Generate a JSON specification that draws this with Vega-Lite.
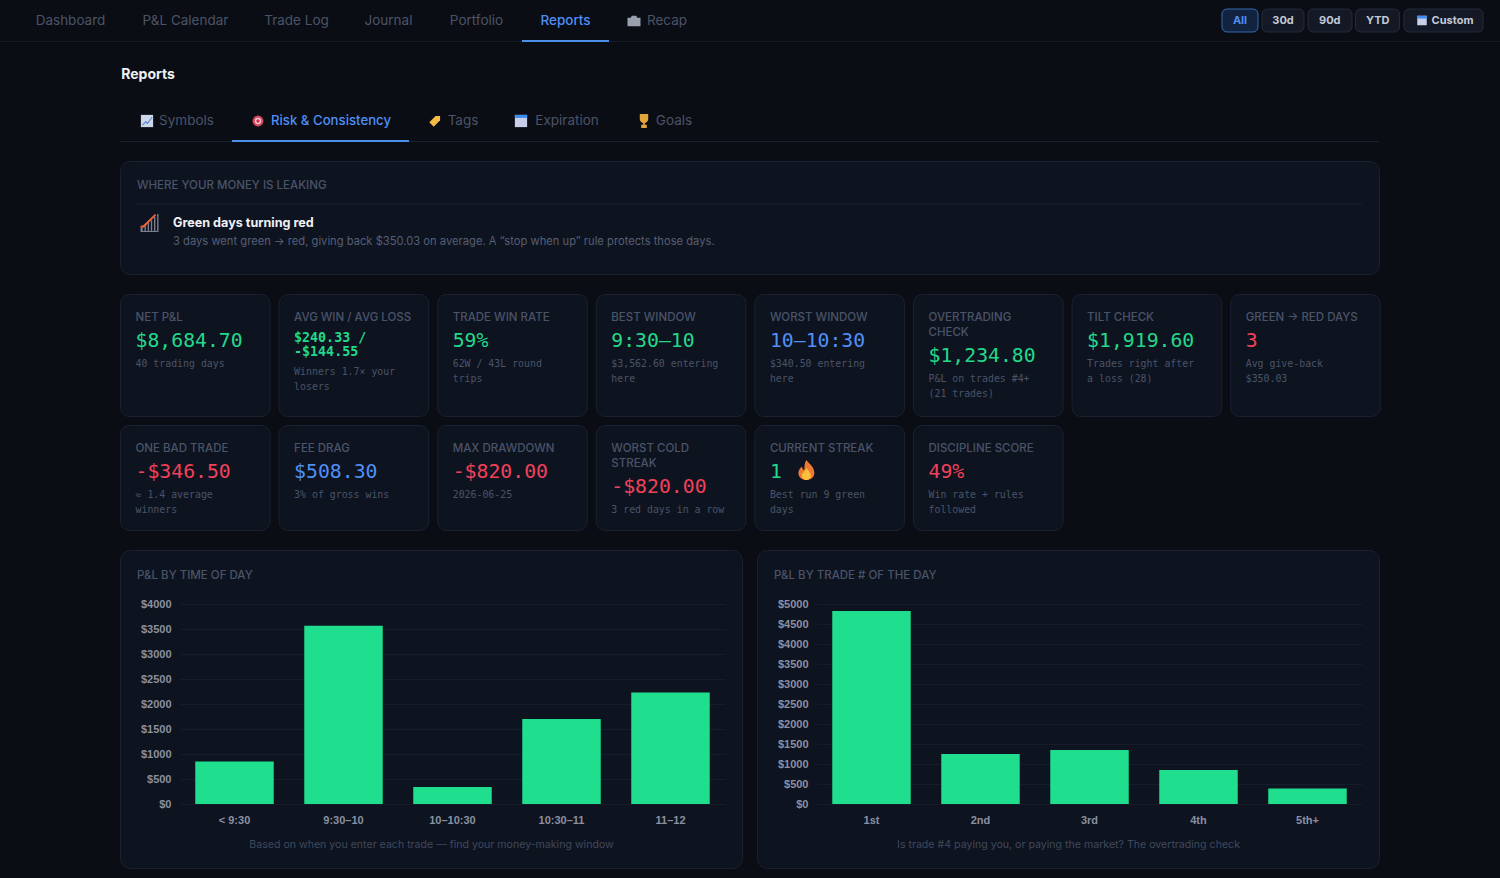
{"$schema":"https://vega.github.io/schema/vega-lite/v6.json","description":"Reports - risk and consistency","background":"#0a0d14","padding":0,"spacing":18,"config":{"view":{"stroke":null},"text":{"font":"Inter"},"title":{"font":"Inter"}},
"datasets":{"cardsTop":[
{"card":"1 net","role":"label","slot":0,"text":"NET P&L"},{"card":"1 net","role":"value","slot":3,"tone":"green","text":"$8,684.70"},{"card":"1 net","role":"sub","slot":6,"text":"40 trading days"},
{"card":"2 avg","role":"label","slot":0,"text":"AVG WIN / AVG LOSS"},{"card":"2 avg","role":"pair","slot":3,"tone":"green","text":"$240.33 /\n-$144.55"},{"card":"2 avg","role":"sub","slot":7,"text":"Winners 1.7× your\nlosers"},
{"card":"3 rate","role":"label","slot":0,"text":"TRADE WIN RATE"},{"card":"3 rate","role":"value","slot":3,"tone":"green","text":"59%"},{"card":"3 rate","role":"sub","slot":6,"text":"62W / 43L round\ntrips"},
{"card":"4 best","role":"label","slot":0,"text":"BEST WINDOW"},{"card":"4 best","role":"value","slot":3,"tone":"green","text":"9:30–10"},{"card":"4 best","role":"sub","slot":6,"text":"$3,562.60 entering\nhere"},
{"card":"5 worst","role":"label","slot":0,"text":"WORST WINDOW"},{"card":"5 worst","role":"value","slot":3,"tone":"blue","text":"10–10:30"},{"card":"5 worst","role":"sub","slot":6,"text":"$340.50 entering\nhere"},
{"card":"6 over","role":"label","slot":0,"text":"OVERTRADING\nCHECK"},{"card":"6 over","role":"value","slot":5,"tone":"green","text":"$1,234.80"},{"card":"6 over","role":"sub","slot":8,"text":"P&L on trades #4+\n(21 trades)"},
{"card":"7 tilt","role":"label","slot":0,"text":"TILT CHECK"},{"card":"7 tilt","role":"value","slot":3,"tone":"green","text":"$1,919.60"},{"card":"7 tilt","role":"sub","slot":6,"text":"Trades right after\na loss (28)"},
{"card":"8 flip","role":"label","slot":0,"text":"GREEN → RED DAYS"},{"card":"8 flip","role":"value","slot":3,"tone":"red","text":"3"},{"card":"8 flip","role":"sub","slot":6,"text":"Avg give-back\n$350.03"}],
"cardsBottom":[
{"card":"1 bad","role":"label","slot":0,"text":"ONE BAD TRADE"},{"card":"1 bad","role":"value","slot":3,"tone":"red","text":"-$346.50"},{"card":"1 bad","role":"sub","slot":6,"text":"≈ 1.4 average\nwinners"},
{"card":"2 fee","role":"label","slot":0,"text":"FEE DRAG"},{"card":"2 fee","role":"value","slot":3,"tone":"blue","text":"$508.30"},{"card":"2 fee","role":"sub","slot":6,"text":"3% of gross wins"},
{"card":"3 dd","role":"label","slot":0,"text":"MAX DRAWDOWN"},{"card":"3 dd","role":"value","slot":3,"tone":"red","text":"-$820.00"},{"card":"3 dd","role":"sub","slot":6,"text":"2026-06-25"},
{"card":"4 cold","role":"label","slot":0,"text":"WORST COLD\nSTREAK"},{"card":"4 cold","role":"value","slot":5,"tone":"red","text":"-$820.00"},{"card":"4 cold","role":"sub","slot":8,"text":"3 red days in a row"},
{"card":"5 streak","role":"label","slot":0,"text":"CURRENT STREAK"},{"card":"5 streak","role":"value","slot":3,"tone":"green","text":"1"},{"card":"5 streak","role":"flame","slot":3},{"card":"5 streak","role":"sub","slot":6,"text":"Best run 9 green\ndays"},
{"card":"6 disc","role":"label","slot":0,"text":"DISCIPLINE SCORE"},{"card":"6 disc","role":"value","slot":3,"tone":"red","text":"49%"},{"card":"6 disc","role":"sub","slot":6,"text":"Win rate + rules\nfollowed"}]},
"vconcat":[
{"spacing":0,"vconcat":[
{"bounds":"flush","spacing":0,"hconcat":[
{"width":17,"height":42,"data":{"values":[{}]},"mark":{"type":"rect","color":"#161b26"},"encoding":{"y":{"datum":"edge","type":"nominal","scale":{"type":"band","domain":["edge"],"range":[41,42],"padding":0},"axis":null}}},
{"width":107,"height":42,"data":{"values":[{"tab":"Dashboard"}]},"layer":[{"mark":{"type":"rect","color":"#161b26"},"encoding":{"y":{"datum":"edge","type":"nominal","scale":{"type":"band","domain":["edge"],"range":[41,42],"padding":0},"axis":null}}},{"mark":{"type":"text","fontSize":13.5,"color":"#4a5468"},"encoding":{"text":{"field":"tab"}}}]},
{"width":123,"height":42,"data":{"values":[{"tab":"P&L Calendar"}]},"layer":[{"mark":{"type":"rect","color":"#161b26"},"encoding":{"y":{"datum":"edge","type":"nominal","scale":{"type":"band","domain":["edge"],"range":[41,42],"padding":0},"axis":null}}},{"mark":{"type":"text","fontSize":13.5,"color":"#4a5468"},"encoding":{"text":{"field":"tab"}}}]},
{"width":99,"height":42,"data":{"values":[{"tab":"Trade Log"}]},"layer":[{"mark":{"type":"rect","color":"#161b26"},"encoding":{"y":{"datum":"edge","type":"nominal","scale":{"type":"band","domain":["edge"],"range":[41,42],"padding":0},"axis":null}}},{"mark":{"type":"text","fontSize":13.5,"color":"#4a5468"},"encoding":{"text":{"field":"tab"}}}]},
{"width":85,"height":42,"data":{"values":[{"tab":"Journal"}]},"layer":[{"mark":{"type":"rect","color":"#161b26"},"encoding":{"y":{"datum":"edge","type":"nominal","scale":{"type":"band","domain":["edge"],"range":[41,42],"padding":0},"axis":null}}},{"mark":{"type":"text","fontSize":13.5,"color":"#4a5468"},"encoding":{"text":{"field":"tab"}}}]},
{"width":91,"height":42,"data":{"values":[{"tab":"Portfolio"}]},"layer":[{"mark":{"type":"rect","color":"#161b26"},"encoding":{"y":{"datum":"edge","type":"nominal","scale":{"type":"band","domain":["edge"],"range":[41,42],"padding":0},"axis":null}}},{"mark":{"type":"text","fontSize":13.5,"color":"#4a5468"},"encoding":{"text":{"field":"tab"}}}]},
{"width":87,"height":42,"data":{"values":[{"tab":"Reports"}]},"layer":[{"mark":{"type":"rect","color":"#4a8fe8"},"encoding":{"y":{"datum":"edge","type":"nominal","scale":{"type":"band","domain":["edge"],"range":[40,42],"padding":0},"axis":null}}},{"mark":{"type":"text","fontSize":13.5,"fontWeight":500,"color":"#4f8ff7"},"encoding":{"text":{"field":"tab"}}}]},
{"width":98,"height":42,"data":{"values":[{"tab":"Recap"}]},"layer":[{"mark":{"type":"rect","color":"#161b26"},"encoding":{"y":{"datum":"edge","type":"nominal","scale":{"type":"band","domain":["edge"],"range":[41,42],"padding":0},"axis":null}}},{"mark":{"type":"point","shape":"M-1,-0.5 L-0.5,-0.5 L-0.35,-0.8 L0.35,-0.8 L0.5,-0.5 L1,-0.5 L1,0.8 L-1,0.8Z","filled":true,"size":169,"opacity":1,"color":"#9a9fae","xOffset":-24,"yOffset":0},"encoding":{}},{"mark":{"type":"text","fontSize":13.5,"color":"#4a5468","dx":9},"encoding":{"text":{"field":"tab"}}}]},
{"width":513,"height":42,"data":{"values":[{}]},"mark":{"type":"rect","color":"#161b26"},"encoding":{"y":{"datum":"edge","type":"nominal","scale":{"type":"band","domain":["edge"],"range":[41,42],"padding":0},"axis":null}}},
{"width":40,"height":42,"data":{"values":[{"tab":"All"}]},"resolve":{"scale":{"y":"independent"}},"layer":[{"mark":{"type":"rect","color":"#161b26"},"encoding":{"y":{"datum":"edge","type":"nominal","scale":{"type":"band","domain":["edge"],"range":[41,42],"padding":0},"axis":null}}},{"mark":{"type":"rect","fill":"#12233f","stroke":"#356ab0","cornerRadius":5},"encoding":{"x":{"field":"tab","type":"nominal","scale":{"type":"band","range":[2,38],"padding":0},"axis":null},"y":{"datum":"btn","type":"nominal","scale":{"type":"band","domain":["btn"],"range":[9,32],"padding":0},"axis":null}}},{"mark":{"type":"text","fontSize":11,"fontWeight":700,"color":"#4f8ff7"},"encoding":{"text":{"field":"tab"},"y":{"datum":"btn","type":"nominal","scale":{"type":"band","domain":["btn"],"range":[9,32],"padding":0},"axis":null}}}]},
{"width":46,"height":42,"data":{"values":[{"tab":"30d"}]},"resolve":{"scale":{"y":"independent"}},"layer":[{"mark":{"type":"rect","color":"#161b26"},"encoding":{"y":{"datum":"edge","type":"nominal","scale":{"type":"band","domain":["edge"],"range":[41,42],"padding":0},"axis":null}}},{"mark":{"type":"rect","fill":"#141925","stroke":"#252b3a","cornerRadius":5},"encoding":{"x":{"field":"tab","type":"nominal","scale":{"type":"band","range":[2,44],"padding":0},"axis":null},"y":{"datum":"btn","type":"nominal","scale":{"type":"band","domain":["btn"],"range":[9,32],"padding":0},"axis":null}}},{"mark":{"type":"text","fontSize":11,"fontWeight":700,"color":"#c3c9d6"},"encoding":{"text":{"field":"tab"},"y":{"datum":"btn","type":"nominal","scale":{"type":"band","domain":["btn"],"range":[9,32],"padding":0},"axis":null}}}]},
{"width":47.5,"height":42,"data":{"values":[{"tab":"90d"}]},"resolve":{"scale":{"y":"independent"}},"layer":[{"mark":{"type":"rect","color":"#161b26"},"encoding":{"y":{"datum":"edge","type":"nominal","scale":{"type":"band","domain":["edge"],"range":[41,42],"padding":0},"axis":null}}},{"mark":{"type":"rect","fill":"#141925","stroke":"#252b3a","cornerRadius":5},"encoding":{"x":{"field":"tab","type":"nominal","scale":{"type":"band","range":[2,46],"padding":0},"axis":null},"y":{"datum":"btn","type":"nominal","scale":{"type":"band","domain":["btn"],"range":[9,32],"padding":0},"axis":null}}},{"mark":{"type":"text","fontSize":11,"fontWeight":700,"color":"#c3c9d6"},"encoding":{"text":{"field":"tab"},"y":{"datum":"btn","type":"nominal","scale":{"type":"band","domain":["btn"],"range":[9,32],"padding":0},"axis":null}}}]},
{"width":47.5,"height":42,"data":{"values":[{"tab":"YTD"}]},"resolve":{"scale":{"y":"independent"}},"layer":[{"mark":{"type":"rect","color":"#161b26"},"encoding":{"y":{"datum":"edge","type":"nominal","scale":{"type":"band","domain":["edge"],"range":[41,42],"padding":0},"axis":null}}},{"mark":{"type":"rect","fill":"#141925","stroke":"#252b3a","cornerRadius":5},"encoding":{"x":{"field":"tab","type":"nominal","scale":{"type":"band","range":[1.5,45.5],"padding":0},"axis":null},"y":{"datum":"btn","type":"nominal","scale":{"type":"band","domain":["btn"],"range":[9,32],"padding":0},"axis":null}}},{"mark":{"type":"text","fontSize":11,"fontWeight":700,"color":"#c3c9d6"},"encoding":{"text":{"field":"tab"},"y":{"datum":"btn","type":"nominal","scale":{"type":"band","domain":["btn"],"range":[9,32],"padding":0},"axis":null}}}]},
{"width":99,"height":42,"data":{"values":[{"tab":"Custom"}]},"resolve":{"scale":{"y":"independent"}},"layer":[{"mark":{"type":"rect","color":"#161b26"},"encoding":{"y":{"datum":"edge","type":"nominal","scale":{"type":"band","domain":["edge"],"range":[41,42],"padding":0},"axis":null}}},{"mark":{"type":"rect","fill":"#141925","stroke":"#252b3a","cornerRadius":5},"encoding":{"x":{"field":"tab","type":"nominal","scale":{"type":"band","range":[2,81],"padding":0},"axis":null},"y":{"datum":"btn","type":"nominal","scale":{"type":"band","domain":["btn"],"range":[9,32],"padding":0},"axis":null}}},{"mark":{"type":"point","shape":"square","filled":true,"size":90,"opacity":1,"color":"#c9cfe8","xOffset":-29.5},"encoding":{"y":{"datum":"btn","type":"nominal","scale":{"type":"band","domain":["btn"],"range":[9,32],"padding":0},"axis":null}}},{"mark":{"type":"point","shape":"M-1,-1 L1,-1 L1,-0.4 L-1,-0.4Z","filled":true,"size":90,"opacity":1,"color":"#3f8cf0","xOffset":-29.5},"encoding":{"y":{"datum":"btn","type":"nominal","scale":{"type":"band","domain":["btn"],"range":[9,32],"padding":0},"axis":null}}},{"mark":{"type":"text","fontSize":11,"fontWeight":700,"color":"#c3c9d6","dx":1},"encoding":{"text":{"field":"tab"},"y":{"datum":"btn","type":"nominal","scale":{"type":"band","domain":["btn"],"range":[9,32],"padding":0},"axis":null}}}]}
]},
{"bounds":"flush","spacing":0,"hconcat":[
{"width":119.5,"height":58,"data":{"values":[{}]},"mark":{"type":"rect","opacity":0},"encoding":{}},
{"width":56,"height":58,"data":{"values":[{"text":"Reports"}]},"mark":{"type":"text","fontSize":14,"fontWeight":700,"color":"#eef1f6","dy":4},"encoding":{"text":{"field":"text"}}}
]},
{"bounds":"flush","spacing":0,"hconcat":[
{"width":119.5,"height":42,"data":{"values":[{}]},"mark":{"type":"rect","opacity":0},"encoding":{}},
{"width":112,"height":42,"data":{"values":[{"tab":"Symbols"}]},"layer":[{"mark":{"type":"rect","color":"#1a202c"},"encoding":{"y":{"datum":"edge","type":"nominal","scale":{"type":"band","domain":["edge"],"range":[41,42],"padding":0},"axis":null}}},{"mark":{"type":"point","shape":"square","filled":true,"size":150,"opacity":1,"color":"#cdd7ea","xOffset":-29},"encoding":{}},{"mark":{"type":"point","shape":"M-0.8,0.6 L-0.2,0 L0.1,0.25 L0.8,-0.7 L0.9,-0.6 L0.1,0.55 L-0.2,0.25 L-0.7,0.75Z","filled":true,"size":150,"opacity":1,"color":"#4a7fd6","xOffset":-29},"encoding":{}},{"mark":{"type":"text","fontSize":13.5,"color":"#4a5468","dx":10.5},"encoding":{"text":{"field":"tab"}}}]},
{"width":177,"height":42,"data":{"values":[{"tab":"Risk & Consistency"}]},"layer":[{"mark":{"type":"rect","color":"#4a8fe8"},"encoding":{"y":{"datum":"edge","type":"nominal","scale":{"type":"band","domain":["edge"],"range":[40,42],"padding":0},"axis":null}}},{"mark":{"type":"point","shape":"circle","filled":true,"size":120,"opacity":1,"color":"#d9475f","xOffset":-62.5},"encoding":{}},{"mark":{"type":"point","shape":"circle","filled":true,"size":40,"opacity":1,"color":"#f2c9d0","xOffset":-62.5},"encoding":{}},{"mark":{"type":"point","shape":"circle","filled":true,"size":12,"opacity":1,"color":"#c92f4a","xOffset":-62.5},"encoding":{}},{"mark":{"type":"text","fontSize":13.2,"fontWeight":500,"color":"#4f8ff7","dx":10.5},"encoding":{"text":{"field":"tab"}}}]},
{"width":89,"height":42,"data":{"values":[{"tab":"Tags"}]},"layer":[{"mark":{"type":"rect","color":"#1a202c"},"encoding":{"y":{"datum":"edge","type":"nominal","scale":{"type":"band","domain":["edge"],"range":[41,42],"padding":0},"axis":null}}},{"mark":{"type":"point","shape":"M-0.9,0.2 L0.1,-0.8 L0.8,-0.8 L0.8,-0.1 L-0.2,0.9Z","filled":true,"size":160,"opacity":1,"color":"#f5bb45","xOffset":-18.5},"encoding":{}},{"mark":{"type":"text","fontSize":13.5,"color":"#4a5468","dx":9.5},"encoding":{"text":{"field":"tab"}}}]},
{"width":120,"height":42,"data":{"values":[{"tab":"Expiration"}]},"layer":[{"mark":{"type":"rect","color":"#1a202c"},"encoding":{"y":{"datum":"edge","type":"nominal","scale":{"type":"band","domain":["edge"],"range":[41,42],"padding":0},"axis":null}}},{"mark":{"type":"point","shape":"square","filled":true,"size":150,"opacity":1,"color":"#c9cfe8","xOffset":-37},"encoding":{}},{"mark":{"type":"point","shape":"M-1,-1 L1,-1 L1,-0.5 L-1,-0.5Z","filled":true,"size":150,"opacity":1,"color":"#3f8cf0","xOffset":-37},"encoding":{}},{"mark":{"type":"text","fontSize":13.5,"color":"#4a5468","dx":9},"encoding":{"text":{"field":"tab"}}}]},
{"width":94,"height":42,"data":{"values":[{"tab":"Goals"}]},"layer":[{"mark":{"type":"rect","color":"#1a202c"},"encoding":{"y":{"datum":"edge","type":"nominal","scale":{"type":"band","domain":["edge"],"range":[41,42],"padding":0},"axis":null}}},{"mark":{"type":"point","shape":"M-0.6,-1 L0.6,-1 L0.6,-0.3 C0.6,0.1 0.2,0.25 0.12,0.3 L0.12,0.55 L0.4,0.55 L0.4,1 L-0.4,1 L-0.4,0.55 L-0.12,0.55 L-0.12,0.3 C-0.2,0.25 -0.6,0.1 -0.6,-0.3Z","filled":true,"size":196,"opacity":1,"color":"#e2a53a","xOffset":-21},"encoding":{}},{"mark":{"type":"text","fontSize":13.5,"color":"#4a5468","dx":9},"encoding":{"text":{"field":"tab"}}}]},
{"width":667,"height":42,"data":{"values":[{}]},"mark":{"type":"rect","color":"#1a202c"},"encoding":{"y":{"datum":"edge","type":"nominal","scale":{"type":"band","domain":["edge"],"range":[41,42],"padding":0},"axis":null}}}
]}
]},
{"bounds":"flush","spacing":0,"hconcat":[
{"width":119.5,"height":113,"data":{"values":[{}]},"mark":{"type":"rect","opacity":0},"encoding":{}},
{"width":1259,"height":113,"view":{"fill":"#0e1320","stroke":"#1b2130","cornerRadius":10},"data":{"values":[{"head":"WHERE YOUR MONEY IS LEAKING","title":"Green days turning red","detail":"3 days went green → red, giving back $350.03 on average. A “stop when up” rule protects those days."}]},
"encoding":{"y":{"datum":"head","type":"nominal","scale":{"type":"point","domain":["head","line","title","detail"],"range":[24,81],"padding":0},"axis":null},"x":{"datum":0,"type":"quantitative","scale":{"domain":[0,1],"range":[17,1242]},"axis":null}},
"layer":[
{"mark":{"type":"text","align":"left","fontSize":11.5,"fontWeight":500,"color":"#4a5468","dy":1},"encoding":{"text":{"field":"head"}}},
{"mark":{"type":"rule","color":"#1b2130"},"encoding":{"y":{"datum":"line"},"x":{"datum":0},"x2":{"datum":1}}},
{"mark":{"type":"point","shape":"M-1,0.6 L-1,1 L1,1 L1,-1 L0.85,-1 L0.85,0.9 L0.65,0.9 L0.65,-0.7 L0.5,-0.7 L0.5,0.9 L0.3,0.9 L0.3,-0.3 L0.15,-0.3 L0.15,0.9 L-0.05,0.9 L-0.05,0 L-0.2,0 L-0.2,0.9 L-0.4,0.9 L-0.4,0.3 L-0.55,0.3 L-0.55,0.9 L-0.75,0.9 L-0.75,0.5Z","filled":true,"size":324,"opacity":1,"color":"#7b8090"},"encoding":{"x":{"datum":0.0102},"y":{"datum":"title"}}},
{"mark":{"type":"point","shape":"M-1,0.3 L-0.7,0.25 L0.6,-1 L0.75,-0.85 L-0.6,0.5 L-1,0.55Z","filled":true,"size":324,"opacity":1,"color":"#e8633a"},"encoding":{"x":{"datum":0.0102},"y":{"datum":"title"}}},
{"mark":{"type":"text","align":"left","fontSize":12.6,"fontWeight":700,"color":"#eef1f6"},"encoding":{"text":{"field":"title"},"x":{"datum":0.0294},"y":{"datum":"title"}}},
{"mark":{"type":"text","align":"left","fontSize":11.2,"color":"#555f75"},"encoding":{"text":{"field":"detail"},"x":{"datum":0.0294},"y":{"datum":"detail"}}}
]}
]},
{"spacing":7,"vconcat":[
{"spacing":0,"hconcat":[
{"width":119,"height":122,"data":{"values":[{}]},"mark":{"type":"rect","opacity":0},"encoding":{}},
{"data":{"name":"cardsTop"},"bounds":"flush","spacing":{"column":8.6,"row":0},"facet":{"column":{"field":"card","type":"nominal","header":null}},
"spec":{"width":149.6,"height":122,"view":{"fill":"#0e1320","stroke":"#1b2130","cornerRadius":9},
"encoding":{"x":{"datum":0,"type":"quantitative","scale":{"domain":[0,1],"range":[15.5,140]},"axis":null},"y":{"field":"slot","type":"ordinal","scale":{"type":"point","domain":[0,1,2,3,4,5,6,7,8,9,10],"range":[22,98.67],"padding":0},"axis":null}},
"layer":[
{"transform":[{"filter":"datum.role==='label'"}],"mark":{"type":"text","align":"left","baseline":"top","lineBreak":"\n","lineHeight":15,"fontSize":11.5,"fontWeight":500,"color":"#4a5468","dy":-4.5},"encoding":{"text":{"field":"text"}}},
{"transform":[{"filter":"datum.role==='value'"}],"mark":{"type":"text","align":"left","baseline":"top","font":"DejaVu Sans Mono","fontSize":19.8,"dy":-8},"encoding":{"text":{"field":"text"},"color":{"field":"tone","type":"nominal","scale":{"domain":["green","red","blue"],"range":["#22d98a","#f0415a","#4f8ff7"]},"legend":null}}},
{"transform":[{"filter":"datum.role==='pair'"}],"mark":{"type":"text","align":"left","baseline":"top","lineBreak":"\n","lineHeight":14,"font":"DejaVu Sans Mono","fontWeight":700,"fontSize":13.3,"color":"#22d98a","dy":-8},"encoding":{"text":{"field":"text"}}},
{"transform":[{"filter":"datum.role==='sub'"}],"mark":{"type":"text","align":"left","baseline":"top","lineBreak":"\n","lineHeight":15,"font":"DejaVu Sans Mono","fontSize":9.9,"color":"#4a5468","dy":-3},"encoding":{"text":{"field":"text"}}}
]}}
]},
{"spacing":0,"hconcat":[
{"width":119,"height":105,"data":{"values":[{}]},"mark":{"type":"rect","opacity":0},"encoding":{}},
{"data":{"name":"cardsBottom"},"bounds":"flush","spacing":{"column":8.6,"row":0},"facet":{"column":{"field":"card","type":"nominal","header":null}},
"spec":{"width":149.6,"height":105,"view":{"fill":"#0e1320","stroke":"#1b2130","cornerRadius":9},
"encoding":{"x":{"datum":0,"type":"quantitative","scale":{"domain":[0,1],"range":[15.5,140]},"axis":null},"y":{"field":"slot","type":"ordinal","scale":{"type":"point","domain":[0,1,2,3,4,5,6,7,8,9,10],"range":[22,98.67],"padding":0},"axis":null}},
"layer":[
{"transform":[{"filter":"datum.role==='label'"}],"mark":{"type":"text","align":"left","baseline":"top","lineBreak":"\n","lineHeight":15,"fontSize":11.5,"fontWeight":500,"color":"#4a5468","dy":-4.5},"encoding":{"text":{"field":"text"}}},
{"transform":[{"filter":"datum.role==='value'"}],"mark":{"type":"text","align":"left","baseline":"top","font":"DejaVu Sans Mono","fontSize":19.8,"dy":-8},"encoding":{"text":{"field":"text"},"color":{"field":"tone","type":"nominal","scale":{"domain":["green","red","blue"],"range":["#22d98a","#f0415a","#4f8ff7"]},"legend":null}}},
{"transform":[{"filter":"datum.role==='flame'"}],"mark":{"type":"point","shape":"M0,-1 C0.3,-0.6 0.8,-0.3 0.8,0.3 C0.8,0.75 0.4,1 0,1 C-0.4,1 -0.8,0.75 -0.8,0.3 C-0.8,0 -0.6,-0.2 -0.45,-0.35 C-0.4,-0.1 -0.3,0 -0.2,0 C-0.2,-0.4 -0.2,-0.7 0,-1Z","filled":true,"size":400,"opacity":1,"color":"#ee7a32"},"encoding":{"x":{"datum":0.293}}},
{"transform":[{"filter":"datum.role==='flame'"}],"mark":{"type":"point","shape":"M0,-0.2 C0.25,0.1 0.45,0.3 0.45,0.55 C0.45,0.85 0.2,1 0,1 C-0.2,1 -0.45,0.85 -0.45,0.55 C-0.45,0.3 -0.1,0.15 0,-0.2Z","filled":true,"size":400,"opacity":1,"color":"#fbbf3c"},"encoding":{"x":{"datum":0.293}}},
{"transform":[{"filter":"datum.role==='sub'"}],"mark":{"type":"text","align":"left","baseline":"top","lineBreak":"\n","lineHeight":15,"font":"DejaVu Sans Mono","fontSize":9.9,"color":"#4a5468","dy":-3},"encoding":{"text":{"field":"text"}}}
]}}
]}
]},
{"spacing":0,"vconcat":[
{"bounds":"flush","spacing":15,"hconcat":[
{"width":105,"height":318,"data":{"values":[{}]},"mark":{"type":"rect","opacity":0},"encoding":{}},
{"width":622,"height":318,"view":{"fill":"#0e1320","stroke":"#1b2130","cornerRadius":10},
"title":{"text":"P&L BY TIME OF DAY","anchor":"start","frame":"group","orient":"top","offset":-37,"dx":17,"fontSize":11.5,"fontWeight":500,"color":"#4a5468","baseline":"middle"},
"data":{"values":[{"window":"< 9:30","pnl":850},{"window":"9:30–10","pnl":3562.6},{"window":"10–10:30","pnl":340.5},{"window":"10:30–11","pnl":1700},{"window":"11–12","pnl":2231.6}]},
"mark":{"type":"bar","color":"#1fdf8e"},
"encoding":{
"x":{"field":"window","type":"nominal","sort":null,"scale":{"type":"band","range":[60,605],"paddingInner":0.28,"paddingOuter":0.14},"axis":{"title":"Based on when you enter each trade — find your money-making window","titleFont":"Inter","titleFontSize":10.6,"titleFontWeight":400,"titleColor":"#3f495c","titleX":311,"titlePadding":14,"labelAngle":0,"labelFont":"Liberation Sans","labelFontSize":11,"labelFontWeight":700,"labelColor":"#8a90a0","labelPadding":10,"domain":false,"ticks":false,"offset":-64}},
"y":{"field":"pnl","type":"quantitative","scale":{"domain":[0,4000],"range":[254,54],"nice":false},"axis":{"title":null,"values":[0,500,1000,1500,2000,2500,3000,3500,4000],"format":"$d","labelFont":"Liberation Sans","labelFontSize":11,"labelFontWeight":700,"labelColor":"#8a90a0","labelPadding":9,"domain":false,"ticks":false,"grid":true,"gridColor":"#161c2a","offset":-60}}
}},
{"width":622,"height":318,"view":{"fill":"#0e1320","stroke":"#1b2130","cornerRadius":10},
"title":{"text":"P&L BY TRADE # OF THE DAY","anchor":"start","frame":"group","orient":"top","offset":-37,"dx":17,"fontSize":11.5,"fontWeight":500,"color":"#4a5468","baseline":"middle"},
"data":{"values":[{"trade":"1st","pnl":4825},{"trade":"2nd","pnl":1250},{"trade":"3rd","pnl":1350},{"trade":"4th","pnl":850},{"trade":"5th+","pnl":385}]},
"mark":{"type":"bar","color":"#1fdf8e"},
"encoding":{
"x":{"field":"trade","type":"nominal","sort":null,"scale":{"type":"band","range":[60,605],"paddingInner":0.28,"paddingOuter":0.14},"axis":{"title":"Is trade #4 paying you, or paying the market? The overtrading check","titleFont":"Inter","titleFontSize":10.6,"titleFontWeight":400,"titleColor":"#3f495c","titleX":311,"titlePadding":14,"labelAngle":0,"labelFont":"Liberation Sans","labelFontSize":11,"labelFontWeight":700,"labelColor":"#8a90a0","labelPadding":10,"domain":false,"ticks":false,"offset":-64}},
"y":{"field":"pnl","type":"quantitative","scale":{"domain":[0,5000],"range":[254,54],"nice":false},"axis":{"title":null,"values":[0,500,1000,1500,2000,2500,3000,3500,4000,4500,5000],"format":"$d","labelFont":"Liberation Sans","labelFontSize":11,"labelFontWeight":700,"labelColor":"#8a90a0","labelPadding":9,"domain":false,"ticks":false,"grid":true,"gridColor":"#161c2a","offset":-60}}
}}
]},
{"width":1500,"height":14,"data":{"values":[{}]},"mark":{"type":"rect","opacity":0},"encoding":{}}
]}
]}
